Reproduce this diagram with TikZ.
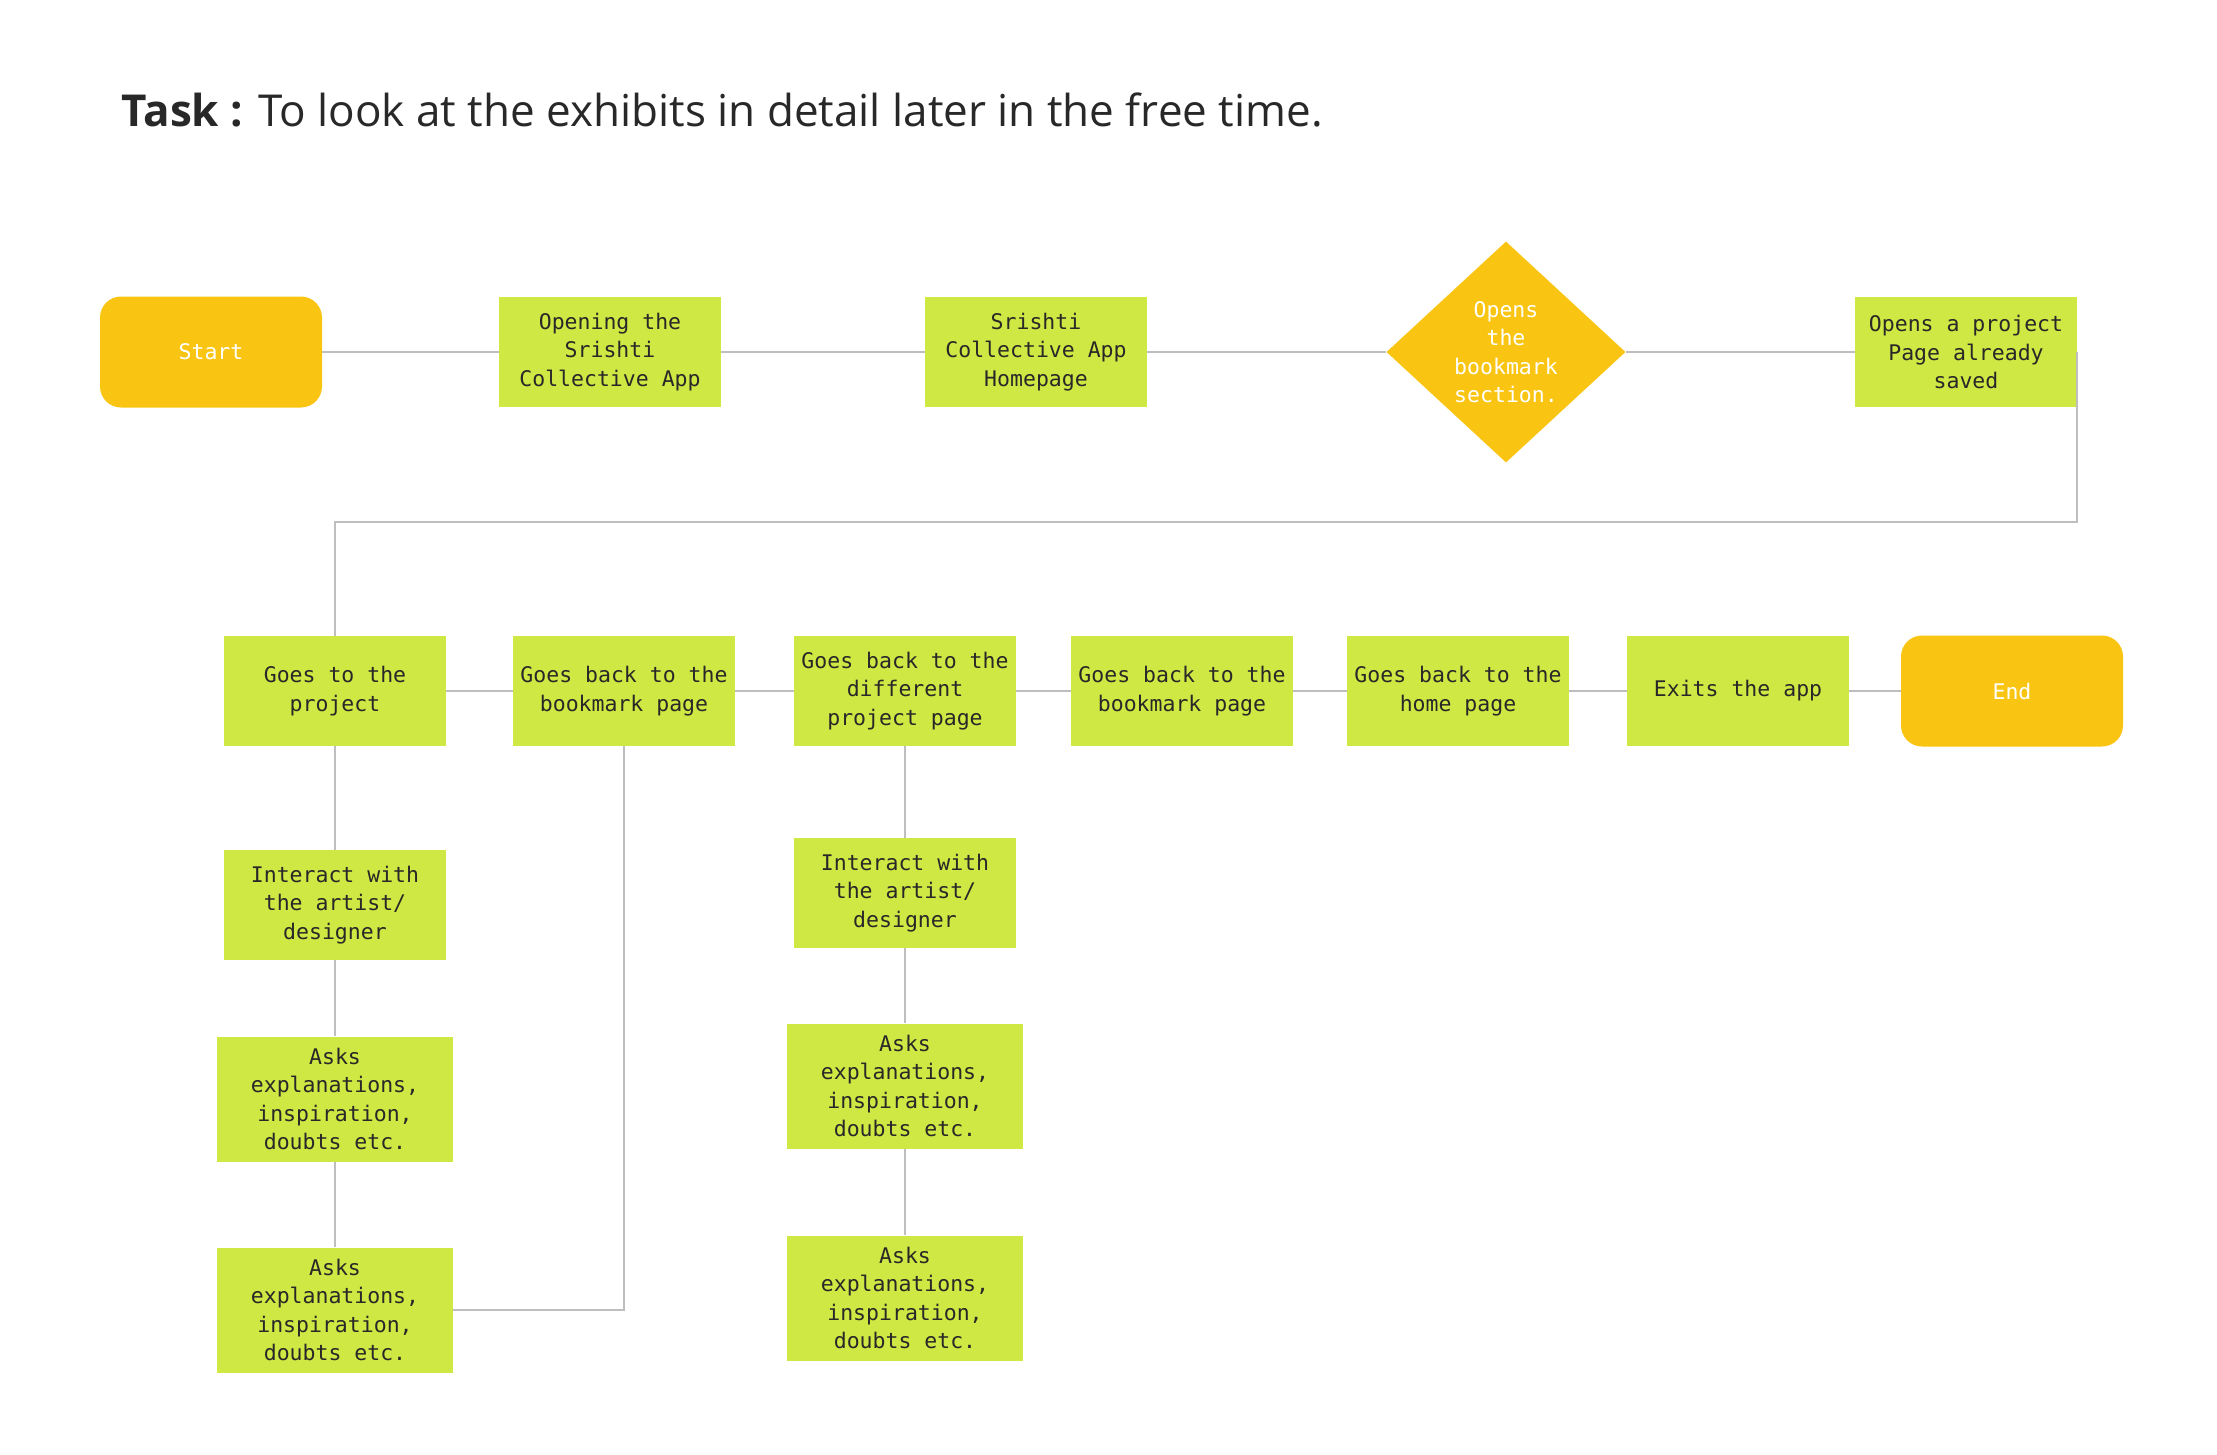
\documentclass[tikz,border=0pt]{standalone}
\usepackage{fontspec}
\setmainfont{Open Sans}
\newfontfamily\boxfont{DejaVu Sans Mono}
\usepackage{xcolor}
\usetikzlibrary{positioning,shapes.geometric,calc}
\definecolor{lime}{RGB}{208,232,67}
\definecolor{amber}{RGB}{249,197,18}
\definecolor{wire}{RGB}{190,190,190}
\definecolor{ink}{RGB}{40,40,40}

\begin{document}
\begin{tikzpicture}[x = 1pt, y = -1pt,
    stepbox/.style = {fill = lime, minimum width = 222pt, minimum height = 110pt, inner sep = 0pt,
      align = center, text = ink, font = \boxfont\fontsize{21.5}{28.5}\selectfont},
    askbox/.style = {stepbox, minimum width = 236pt, minimum height = 125pt},
    terminal/.style = {fill = amber, rounded corners = 21pt, minimum width = 222pt, minimum height = 111pt,
      inner sep = 0pt, text = white, font = \boxfont\fontsize{21.5}{28.5}\selectfont},
    choice/.style = {diamond, fill = amber, minimum width = 239pt, minimum height = 221pt, inner sep = 0pt,
      align = center, text = white, font = \boxfont\fontsize{21.5}{28.5}\selectfont},
    link/.style = {draw = wire, line width = 1.5pt}]
    \useasboundingbox (0,0) rectangle (2217,1454);
    % Title
    \node[anchor = west, font = \fontsize{44}{52}\selectfont, text = ink] (task) at (118,110)
      {\textbf{Task :} To look at the exhibits in detail later in the free time.};
    % First row
    \node[terminal] (start) at (211,352) {Start};
    \node[stepbox] (open) at (610,352) {Opening the\\Srishti\\Collective App};
    \node[stepbox] (home) at (1036,352) {Srishti\\Collective App\\Homepage};
    \node[choice] (bookmark) at (1506,352) {Opens\\the\\bookmark\\section.};
    \node[stepbox] (saved) at (1966,352) {Opens a project\\Page already\\saved};
    % Second row
    \node[stepbox] (goes) at (335,691) {Goes to the\\project};
    \node[stepbox] (backa) at (624,691) {Goes back to the\\bookmark page};
    \node[stepbox] (other) at (905,691) {Goes back to the\\different\\project page};
    \node[stepbox] (backb) at (1182,691) {Goes back to the\\bookmark page};
    \node[stepbox] (backhome) at (1458,691) {Goes back to the\\home page};
    \node[stepbox] (exits) at (1738,691) {Exits the app};
    \node[terminal] (end) at (2012,691) {End};
    % Columns
    \node[stepbox] (talka) at (335,905) {Interact with\\the artist/\\designer};
    \node[askbox] (aska) at (335,1099) {Asks\\explanations,\\inspiration,\\doubts etc.};
    \node[askbox] (askb) at (335,1310) {Asks\\explanations,\\inspiration,\\doubts etc.};
    \node[stepbox] (talkb) at (905,893) {Interact with\\the artist/\\designer};
    \node[askbox] (askc) at (905,1086) {Asks\\explanations,\\inspiration,\\doubts etc.};
    \node[askbox] (askd) at (905,1298) {Asks\\explanations,\\inspiration,\\doubts etc.};
    % Connectors
    \draw[link] (start) -- (open);
    \draw[link] (open) -- (home);
    \draw[link] (home) -- (bookmark);
    \draw[link] (bookmark) -- (saved);
    \draw[link] (saved.east) -- ++(0,170) -| (goes.north);
    \draw[link] (goes) -- (backa);
    \draw[link] (backa) -- (other);
    \draw[link] (other) -- (backb);
    \draw[link] (backb) -- (backhome);
    \draw[link] (backhome) -- (exits);
    \draw[link] (exits) -- (end);
    \draw[link] (goes) -- (talka);
    \draw[link] (talka) -- (aska);
    \draw[link] (aska) -- (askb);
    \draw[link] (askb.east) -| (backa.south);
    \draw[link] (other) -- (talkb);
    \draw[link] (talkb) -- (askc);
    \draw[link] (askc) -- (askd);
  \end{tikzpicture}
\end{document}
